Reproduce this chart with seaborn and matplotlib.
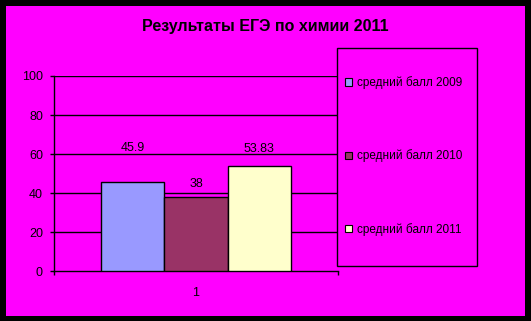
import matplotlib
matplotlib.use("Agg")
import matplotlib.pyplot as plt
from matplotlib.patches import Rectangle, Patch
import seaborn as sns
import pandas as pd

categories = ["1"]
series = ["средний балл 2009", "средний балл 2010", "средний балл 2011"]
values = [45.9, 38, 53.83]
value_labels = ["45.9", "38", "53.83"]
colors = ["#9999FF", "#993366", "#FFFFCC"]
label_offsets_px = [34, 13, 17]
yticks = [0, 20, 40, 60, 80, 100]
title = "Результаты ЕГЭ по химии 2011"

df = pd.DataFrame({"cat": categories * len(series), "series": series, "value": values})

sns.set_theme(style="white")
plt.rcParams["font.family"] = ["Liberation Sans", "DejaVu Sans"]

W, H = 531, 321
fig = plt.figure(figsize=(W / 100, H / 100), dpi=100)
fig.patch.set_facecolor("black")
fig.patches.append(Rectangle((6 / W, 5 / H), 519 / W, 310 / H, transform=fig.transFigure,
                             facecolor="#FF00FF", edgecolor="none", zorder=-2))

ax = fig.add_axes([54 / W, (H - 271.3) / H, 284 / W, 195.3 / H])
ax.set_zorder(1)
ax.set_facecolor("none")

sns.barplot(data=df, x="cat", y="value", hue="series", palette=colors, ax=ax, saturation=1,
            width=0.667, gap=0, edgecolor="black", linewidth=1, legend=False, zorder=3)

ax.set_ylim(0, 100)
ax.set_xlim(-0.5, 0.5)
ax.set_yticks(yticks)
ax.set_yticklabels([str(t) for t in yticks])
for t in yticks[1:]:
    ax.axhline(t, color="black", lw=1, zorder=1)

for sp in ["top", "right"]:
    ax.spines[sp].set_visible(False)
for sp in ["left", "bottom"]:
    ax.spines[sp].set_color("black")
    ax.spines[sp].set_linewidth(1)

ax.tick_params(axis="y", which="major", length=3, width=1, color="black", direction="out",
               left=True, pad=5, labelsize=9, labelcolor="black")
ax.set_xticks([0])
ax.set_xticklabels(categories)
ax.set_xticks([-0.5, 0.5], minor=True)
ax.tick_params(axis="x", which="major", length=0, pad=11, labelsize=9, labelcolor="black")
ax.tick_params(axis="x", which="minor", length=3, width=1, color="black", direction="out", bottom=True)
ax.set_xlabel("")
ax.set_ylabel("")

for bar_cont, lab, off in zip(ax.containers, value_labels, label_offsets_px):
    b = bar_cont.patches[0]
    ax.annotate(lab, (b.get_x() + b.get_width() / 2, b.get_height()),
                xytext=(0, off * 0.72), textcoords="offset points",
                ha="center", va="center", fontsize=9, color="black", zorder=5)

fig.text(265 / W, 1 - 26 / H, title, ha="center", va="center", fontsize=11.5,
         fontweight="bold", color="black")

# legend box
legbox = Rectangle((337 / W, (H - 266) / H), 140 / W, 218 / H, transform=fig.transFigure,
                   facecolor="#FF00FF", edgecolor="black", lw=1)
legbox.set_zorder(2)
fig.patches.append(legbox)
handles = [Patch(facecolor=c, edgecolor="black", lw=0.8) for c in colors]
leg = fig.legend(handles, series, loc="center left", bbox_to_anchor=(345 / W, 1 - 156 / H),
                 frameon=False, fontsize=8.5, labelspacing=5.1, handlelength=0.6,
                 handleheight=0.6, handletextpad=0.45, borderpad=0, borderaxespad=0)
leg.set_zorder(3)
for t in leg.get_texts():
    t.set_color("black")

fig.savefig("out.png", dpi=100, facecolor=fig.get_facecolor())
